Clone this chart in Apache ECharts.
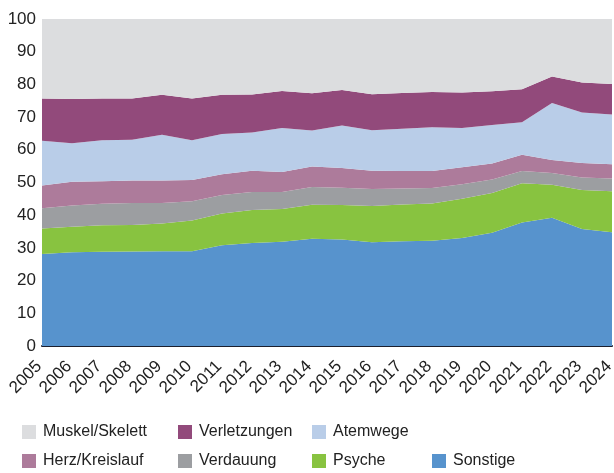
<!DOCTYPE html>
<head>
    <meta charset="utf-8">
    <title>ECharts</title>
    <style>
        body { margin: 0; background: #fff; }
        #chart { width: 614px; height: 473px; }
    </style>
</head>
<body>
    <div id="chart"></div>
    <script src="https://cdn.jsdelivr.net/npm/echarts/dist/echarts.min.js"></script>
    <script>
        var years = ['2005', '2006', '2007', '2008', '2009', '2010', '2011', '2012', '2013', '2014',
            '2015', '2016', '2017', '2018', '2019', '2020', '2021', '2022', '2023', '2024'];
        var yTicks = [0, 100, 10]; // min, max, step

        // Anteile in Prozent, von unten nach oben gestapelt
        var sonstige = [28.1, 28.7, 28.8, 28.9, 29.0, 29.0, 30.8, 31.5, 31.9, 32.8, 32.6, 31.7, 32.0, 32.2, 33.0, 34.6, 37.8, 39.2, 35.8, 34.8];
        var psyche = [7.8, 7.8, 8.1, 8.1, 8.5, 9.4, 9.7, 10.1, 10.0, 10.4, 10.5, 11.1, 11.3, 11.4, 12.0, 12.2, 12.0, 10.1, 11.9, 12.5];
        var verdauung = [6.2, 6.5, 6.6, 6.7, 6.2, 5.9, 5.7, 5.5, 5.2, 5.4, 5.3, 5.2, 4.9, 4.7, 4.5, 4.1, 3.7, 3.6, 3.8, 3.9];
        var herz = [7.0, 7.2, 6.9, 6.9, 6.9, 6.5, 6.3, 6.5, 6.1, 6.3, 6.0, 5.6, 5.3, 5.2, 5.2, 4.9, 5.0, 4.0, 4.5, 4.4];
        var atemwege = [13.7, 11.8, 12.5, 12.5, 14.0, 12.1, 12.3, 11.7, 13.5, 11.0, 13.0, 12.4, 12.9, 13.4, 12.0, 11.8, 9.9, 17.4, 15.4, 15.2];
        var verletzungen = [12.9, 13.5, 12.8, 12.6, 12.2, 12.8, 12.0, 11.6, 11.3, 11.4, 10.9, 11.0, 11.0, 10.8, 10.8, 10.3, 10.1, 8.1, 9.2, 9.3];
        var muskel = [24.3, 24.5, 24.3, 24.3, 23.2, 24.3, 23.2, 23.1, 22.0, 22.7, 21.7, 23.0, 22.6, 22.3, 22.5, 22.1, 21.5, 17.6, 19.4, 19.9];

        var names = ['Sonstige', 'Psyche', 'Verdauung', 'Herz/Kreislauf', 'Atemwege', 'Verletzungen', 'Muskel/Skelett'];
        var values = [sonstige, psyche, verdauung, herz, atemwege, verletzungen, muskel];
        var colors = ['#5793cd', '#88c340', '#9c9ea1', '#ad7b9b', '#b9cde8', '#924a7b', '#dcdddf'];

        var font = 'Liberation Sans, Arial, sans-serif';
        var textColor = '#222';

        // one legend per item so the columns line up like the original
        function legendItem(name, left, top) {
            return {
                left: left,
                top: top,
                padding: 0,
                itemWidth: 14,
                itemHeight: 14,
                itemGap: 0,
                icon: 'rect',
                selectedMode: false,
                data: [name],
                textStyle: { fontFamily: font, fontSize: 16, color: textColor, padding: [0, 0, 0, 2] }
            };
        }

        var chart = echarts.init(document.getElementById('chart'));
        chart.setOption({
            animation: false,
            color: colors,
            grid: { left: 42, right: 2, top: 19, bottom: 127, outerBoundsMode: 'none' },
            legend: [
                legendItem('Muskel/Skelett', 22, 424),
                legendItem('Verletzungen', 178, 424),
                legendItem('Atemwege', 312, 424),
                legendItem('Herz/Kreislauf', 22, 453),
                legendItem('Verdauung', 178, 453),
                legendItem('Psyche', 312, 453),
                legendItem('Sonstige', 432, 453)
            ],
            xAxis: {
                type: 'category',
                data: years,
                boundaryGap: false,
                axisLine: { lineStyle: { color: '#1b1f2e', width: 2 } },
                axisTick: { show: false },
                axisLabel: {
                    interval: 0, hideOverlap: false, rotate: 45, margin: 15,
                    padding: [0, 4, 0, 0],
                    fontFamily: font, fontSize: 17, color: textColor
                }
            },
            yAxis: {
                type: 'value',
                min: yTicks[0],
                max: yTicks[1],
                interval: yTicks[2],
                splitLine: { show: false },
                axisLine: { show: false },
                axisTick: { show: false },
                axisLabel: { margin: 6, fontFamily: font, fontSize: 17, color: textColor }
            },
            series: names.map(function (n, i) {
                return {
                    name: n,
                    type: 'line',
                    stack: 'total',
                    data: values[i],
                    symbol: 'none',
                    lineStyle: { width: 0 },
                    areaStyle: { color: colors[i], opacity: 1 }
                };
            })
        });
    </script>
</body>
